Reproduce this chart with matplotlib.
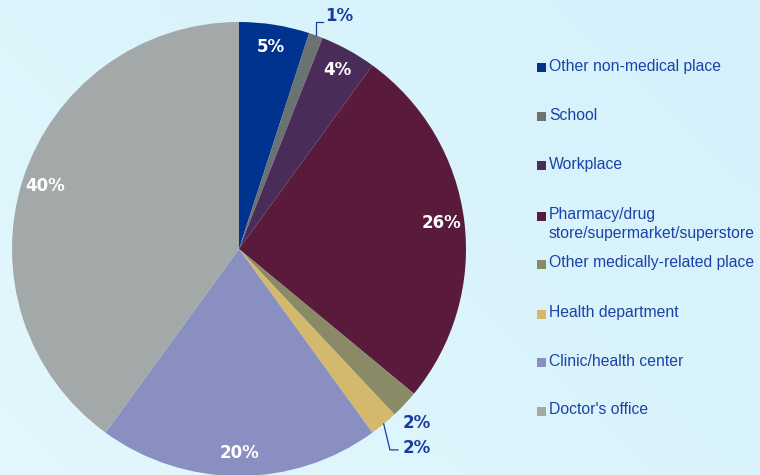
import numpy as np
import matplotlib
matplotlib.use("Agg")
from matplotlib import pyplot as plt
from matplotlib.patches import Rectangle

# data
categories = ["Other non-medical place", "School", "Workplace",
              "Pharmacy/drug\nstore/supermarket/superstore",
              "Other medically-related place", "Health department",
              "Clinic/health center", "Doctor's office"]
shares = [5, 1, 4, 26, 2, 2, 20, 40]
pct_labels = ["5%", "1%", "4%", "26%", "2%", "2%", "20%", "40%"]
colors = ["#00338f", "#6b7272", "#4a2c58", "#5a1a3c",
          "#8b8a66", "#d4b96c", "#8a8fc2", "#a3a8a8"]

fig = plt.figure(figsize=(7.6, 4.75), dpi=100)

# background gradient
bg = fig.add_axes([0, 0, 1, 1])
yy, xx = np.mgrid[0:1:200j, 0:1:300j]
c1 = np.array([0.89, 0.97, 0.99])
c2 = np.array([0.83, 0.945, 0.985])
t = np.clip(0.6 * xx + 0.4 * (1 - yy), 0, 1)[..., None]
bg.imshow(c1 * (1 - t) + c2 * t, extent=[0, 1, 0, 1], aspect="auto", origin="upper")
bg.axis("off")

W, H = 760, 475
cx, cy, R = 239, 249, 227
ax = fig.add_axes([(cx - R) / W, (H - cy - R) / H, 2 * R / W, 2 * R / H])
wedges, _ = ax.pie(shares, colors=colors, startangle=90, counterclock=False,
                   radius=1.0, wedgeprops=dict(linewidth=0))
ax.set_xlim(-1, 1)
ax.set_ylim(-1, 1)
ax.set_aspect("equal")
ax.axis("off")

dark = "#1a3c9e"
outside = {1: (0.38, 1.025), 4: (0.72, -0.767), 5: (0.72, -0.875)}
for i, w in enumerate(wedges):
    mid = np.deg2rad((w.theta1 + w.theta2) / 2)
    if i in outside:
        tx, ty = outside[i]
        ax.text(tx, ty, pct_labels[i], ha="left", va="center", color=dark,
                fontsize=12, fontweight="bold", clip_on=False)
    else:
        r = 0.9
        ax.text(r * np.cos(mid), r * np.sin(mid), pct_labels[i], ha="center",
                va="center", color="white", fontsize=12, fontweight="bold")

# leader lines
m1 = np.deg2rad((wedges[1].theta1 + wedges[1].theta2) / 2)
ex, ey = np.cos(m1), np.sin(m1)
ax.plot([ex, ex, ex + 0.03], [ey, 1.0, 1.0], color=dark, lw=0.9, clip_on=False)
m5 = np.deg2rad((wedges[5].theta1 + wedges[5].theta2) / 2)
ex, ey = np.cos(m5), np.sin(m5)
ax.plot([ex, 0.665, 0.70], [ey, -0.885, -0.885], color=dark, lw=0.9, clip_on=False)

# legend
leg_y = [67, 116, 165, 216, 264, 314, 362, 411]
for i, lab in enumerate(categories):
    y = leg_y[i]
    fig.patches.append(Rectangle(((537) / W, (H - y - 4.5) / H), 9 / W, 9 / H,
                                 facecolor=colors[i], edgecolor="none",
                                 transform=fig.transFigure, figure=fig))
    fig.text(549 / W, (H - y + 8.5) / H, lab, ha="left", va="top", color="#1b42a8",
             fontsize=11.3, family="Liberation Sans", linespacing=1.3)

fig.savefig("out.png", dpi=100)
